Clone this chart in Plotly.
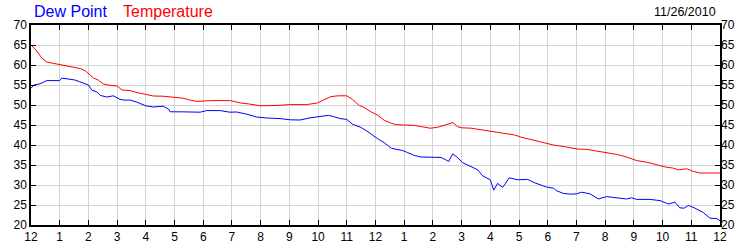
import plotly.graph_objects as go

# Hours since midnight (11/26/2010) and readings in °F
temp_hours = [0.0, 0.2, 0.37, 0.55, 0.72, 1.0, 1.2, 1.33, 1.5, 1.72, 1.9, 2.0, 2.17, 2.35, 2.52, 2.76,
              3.0, 3.17, 3.45, 3.69, 4.0, 4.27, 4.6, 5.0, 5.3, 5.55, 5.78, 6.0, 6.3, 6.95, 7.3, 7.6,
              8.0, 8.6, 9.0, 9.6, 9.97, 10.2, 10.45, 10.7, 11.0, 11.2, 11.43, 11.6, 11.84, 12.07, 12.3,
              12.53, 12.7, 13.0, 13.35, 13.6, 13.9, 14.15, 14.4, 14.64, 14.7, 14.85, 15.0, 15.33, 15.6,
              15.92, 16.4, 16.85, 17.1, 17.45, 17.73, 17.95, 18.2, 18.66, 19.01, 19.36, 19.7, 20.05,
              20.4, 20.75, 21.1, 21.45, 21.8, 22.1, 22.38, 22.55, 22.84, 23.07, 23.3, 24.0]
temperature = [65.0, 63.5, 61.8, 60.75, 60.5, 60.1, 59.9, 59.6, 59.4, 59.1, 58.5, 57.9, 56.8, 56.2, 55.25, 54.9,
               54.75, 53.75, 53.6, 53.1, 52.6, 52.25, 52.2, 51.9, 51.7, 51.2, 50.9, 51.0, 51.1, 51.1, 50.5, 50.25,
               49.8, 49.9, 50.1, 50.1, 50.5, 51.3, 52.1, 52.3, 52.3, 51.4, 49.9, 49.4, 48.3, 47.5, 46.2,
               45.5, 45.1, 45.0, 44.9, 44.6, 44.2, 44.4, 44.9, 45.5, 45.6, 44.6, 44.3, 44.2, 43.9,
               43.7, 43.1, 42.5, 41.9, 41.3, 40.7, 40.4, 40.0, 39.5, 39.0, 38.9, 38.5, 38.2,
               37.65, 37.0, 36.1, 35.7, 35.05, 34.5, 34.2, 33.8, 34.05, 33.4, 33.0, 33.0]

dew_hours = [0.0, 0.1, 0.31, 0.55, 1.0, 1.07, 1.3, 1.53, 1.7, 2.0, 2.12, 2.29, 2.41, 2.64, 2.87, 3.1, 3.28,
             3.45, 3.69, 4.0, 4.27, 4.6, 4.79, 4.85, 5.2, 5.66, 5.89, 6.12, 6.59, 6.93, 7.17, 7.52, 7.86,
             8.21, 8.68, 9.03, 9.37, 9.72, 10.07, 10.36, 10.54, 10.77, 11.0, 11.2, 11.49, 11.7, 12.07,
             12.3, 12.55, 12.75, 12.95, 13.12, 13.35, 13.58, 14.05, 14.28, 14.47, 14.55, 14.69, 14.85,
             15.03, 15.3, 15.56, 15.73, 16.0, 16.12, 16.25, 16.43, 16.66, 16.95, 17.3, 17.53, 17.77,
             17.95, 18.2, 18.3, 18.54, 18.8, 19.01, 19.18, 19.47, 19.76, 20.05, 20.4, 20.75, 20.92,
             21.1, 21.56, 21.91, 22.2, 22.43, 22.6, 22.75, 22.9, 23.13, 23.42, 23.65, 23.89, 24.0]
dew_point = [54.2, 55.0, 55.3, 56.1, 56.1, 56.7, 56.5, 56.25, 55.8, 55.0, 53.7, 53.3, 52.4, 52.0, 52.3, 51.4, 51.2,
             51.25, 50.7, 49.8, 49.5, 49.7, 49.0, 48.3, 48.3, 48.2, 48.2, 48.6, 48.6, 48.2, 48.25, 47.7, 47.0,
             46.75, 46.6, 46.3, 46.25, 46.8, 47.2, 47.4, 47.1, 46.6, 46.4, 45.2, 44.4, 43.5, 41.6,
             40.6, 39.2, 38.9, 38.6, 38.1, 37.4, 37.0, 37.0, 36.9, 36.2, 35.9, 37.8, 36.9,
             35.6, 34.6, 33.8, 32.3, 31.3, 28.7, 30.4, 29.4, 31.8, 31.3, 31.4, 30.6, 30.0,
             29.5, 29.2, 28.6, 27.9, 27.7, 27.8, 28.2, 27.8, 26.5, 27.1, 26.8, 26.5, 26.8,
             26.4, 26.4, 26.1, 25.25, 25.7, 24.3, 24.2, 24.9, 24.2, 23.1, 21.7, 21.6, 21.1]

x_tick_vals = list(range(0, 25))
x_tick_text = ["12", "1", "2", "3", "4", "5", "6", "7", "8", "9", "10", "11",
               "12", "1", "2", "3", "4", "5", "6", "7", "8", "9", "10", "11", "12"]
y_tick_vals = [20, 25, 30, 35, 40, 45, 50, 55, 60, 65, 70]
date_label = "11/26/2010"

FONT = "Arial, Liberation Sans, sans-serif"
L, R, T, B = 31, 30, 25, 25
W, H = 750, 250

fig = go.Figure()
fig.add_trace(go.Scatter(x=dew_hours, y=dew_point, mode="lines", name="Dew Point",
                         line=dict(color="#0000ff", width=1)))
fig.add_trace(go.Scatter(x=temp_hours, y=temperature, mode="lines", name="Temperature",
                         line=dict(color="#ff0000", width=1)))
# invisible trace so the right-hand axis gets labels
fig.add_trace(go.Scatter(x=[0, 24], y=[20, 70], yaxis="y2", mode="lines",
                         line=dict(width=0), showlegend=False, hoverinfo="skip", opacity=0))

axis_common = dict(ticks="inside", ticklen=5, tickcolor="black", tickwidth=1,
                   showline=True, linecolor="black", linewidth=1.5, mirror="ticks",
                   showgrid=True, gridcolor="#d3d3d3", gridwidth=1, zeroline=False,
                   automargin=False, tickfont=dict(family=FONT, size=12, color="black"))

fig.update_layout(
    template="none",
    width=W, height=H,
    margin=dict(l=L, r=R, t=T, b=B, pad=0, autoexpand=False),
    paper_bgcolor="white", plot_bgcolor="white",
    showlegend=False,
    font=dict(family=FONT, size=12, color="black"),
    xaxis=dict(range=[0, 24], tickvals=x_tick_vals, ticktext=x_tick_text, **axis_common),
    yaxis=dict(range=[20, 70], tickvals=y_tick_vals, **axis_common),
    yaxis2=dict(range=[20, 70], tickvals=y_tick_vals, overlaying="y", side="right",
                showgrid=False, zeroline=False, ticks="", showline=False, automargin=False,
                tickfont=dict(family=FONT, size=12, color="black")),
)

pw, ph = W - L - R, H - T - B
anns = [
    dict(text="Dew Point", px=33, py=18, color="#0000ff", size=16, anchor="left"),
    dict(text="Temperature", px=122, py=18, color="#ff0000", size=16, anchor="left"),
    dict(text=date_label, px=717, py=17, color="black", size=12.5, anchor="right"),
]
for a in anns:
    fig.add_annotation(text=a["text"], xref="paper", yref="paper",
                       x=(a["px"] - L) / pw, y=(H - B - a["py"]) / ph,
                       xanchor=a["anchor"], yanchor="bottom", showarrow=False,
                       font=dict(family=FONT, size=a["size"], color=a["color"]),
                       borderpad=0, yshift=-3)

fig.write_html("out.html")
